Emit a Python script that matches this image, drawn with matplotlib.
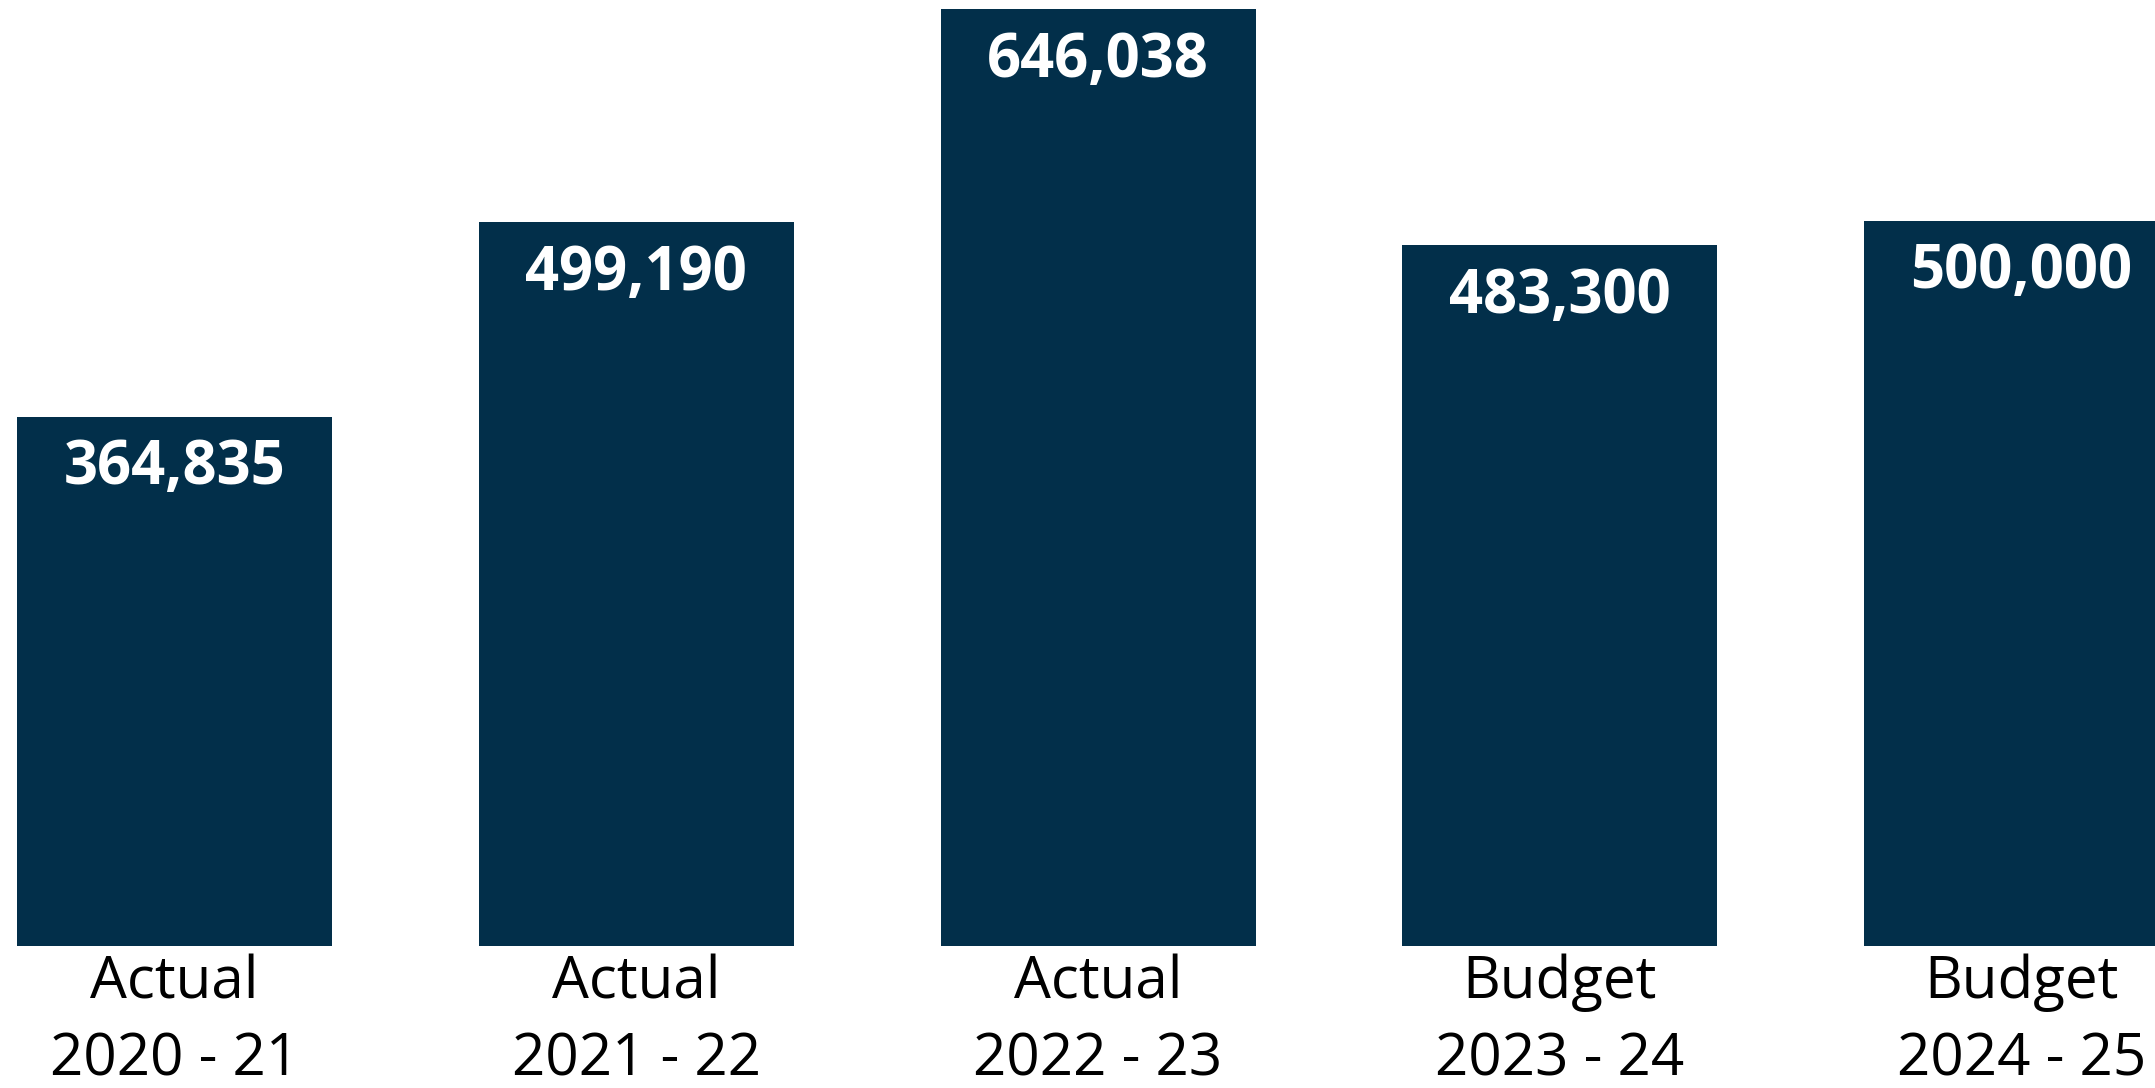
import matplotlib.pyplot as plt
from matplotlib.transforms import blended_transform_factory

# figures per year
kinds = ['Actual', 'Actual', 'Actual', 'Budget', 'Budget']
years = ['2020 - 21', '2021 - 22', '2022 - 23', '2023 - 24', '2024 - 25']
values = [364835, 499190, 646038, 483300, 500000]

bar_color = '#022f4a'

fig = plt.figure(figsize=(21.55, 10.88), dpi=100)
ax = fig.add_axes([0, 142 / 1088, 1, 946 / 1088])

x = list(range(len(values)))
ax.bar(x, values, width=0.682, color=bar_color)

ax.set_xlim(-0.378, 4.289)
ax.set_ylim(0, 652400)
ax.axis('off')

# value labels inside the top of each bar
for xi, v in zip(x, values):
    ax.annotate(f'{v:,}', (xi, v), xytext=(0, -52), textcoords='offset pixels',
                ha='center', va='center', color='white', fontsize=43,
                fontweight='bold', family='Open Sans')

# two-line category labels under the bars
trans = blended_transform_factory(ax.transData, fig.transFigure)
for xi, k, yr in zip(x, kinds, years):
    ax.text(xi, 1 - 983 / 1088, k, transform=trans, ha='center', va='center',
            fontsize=42, family='Open Sans', color='black')
    ax.text(xi, 1 - 1060 / 1088, yr, transform=trans, ha='center', va='center',
            fontsize=42, family='Open Sans', color='black')

fig.savefig('out.png', dpi=100)
